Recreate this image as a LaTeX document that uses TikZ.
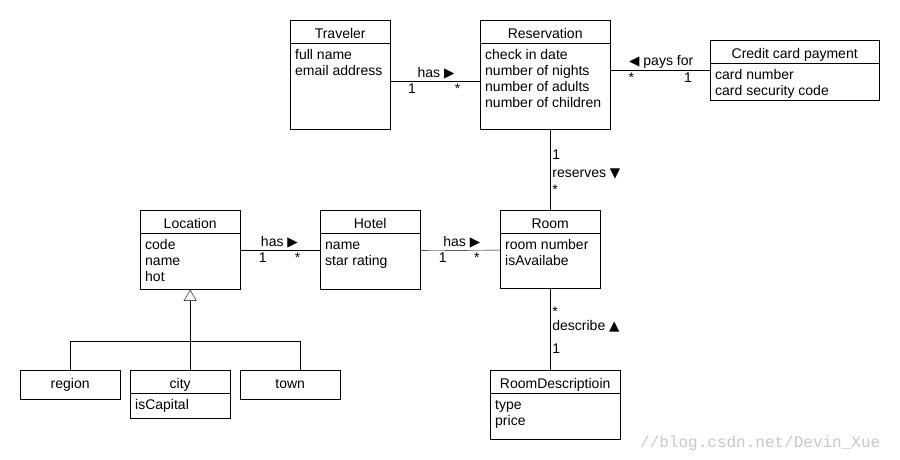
\documentclass[tikz,border=0pt]{standalone}
\usepackage{fontspec}
\setmainfont{Liberation Sans}
\newfontfamily\symfont{DejaVu Sans}
\newfontfamily\wmfont{Liberation Mono}
\usetikzlibrary{arrows.meta}
\usetikzlibrary{positioning}
\tikzset{classhead/.style = {draw, inner sep=0pt, minimum height=23pt, text height=13pt, text depth=0pt},
         classbox/.style = {classhead, minimum height=29pt, text depth=6pt},
         classbody/.style = {draw, inner sep=0pt},
         attrs/.style = {align=left, inner sep=0pt},
         role/.style = {inner sep=2pt},
         inherit/.style = {-{Triangle[open, length=11pt, width=13pt]}},
         wmark/.style = {font=\wmfont\fontsize{16}{18}\selectfont, text=black!22, inner sep=0pt}}
\newcommand{\rtri}{{\symfont\fontsize{13.5}{14}\selectfont▶}}
\newcommand{\ltri}{{\symfont\fontsize{13.5}{14}\selectfont◀}}
\newcommand{\utri}{{\symfont\fontsize{13.5}{14}\selectfont▲}}
\newcommand{\dtri}{{\symfont\fontsize{13.5}{14}\selectfont▼}}

\begin{document}
\begin{tikzpicture}[x=1pt, y=-1pt, font=\fontsize{14}{16}\selectfont]
    \useasboundingbox (0,0) rectangle (900,460);

    % classes
    \node[classhead, minimum width=100pt, anchor=north west] (trav) at (290,20) {Traveler};
    \node[classbody, minimum width=100pt, minimum height=86pt, below=0pt of trav] (travb) {};
    \node[attrs, below right=5.5pt and 5pt of travb.north west] (trava) {full name\\email address};

    \node[classhead, minimum width=130pt, anchor=north west] (res) at (480,20) {Reservation};
    \node[classbody, minimum width=130pt, minimum height=86pt, below=0pt of res] (resb) {};
    \node[attrs, below right=5.5pt and 5pt of resb.north west] (resa)
      {check in date\\number of nights\\number of adults\\number of children};

    \node[classhead, minimum width=169pt, anchor=north west] (card) at (710,40) {Credit card payment};
    \node[classbody, minimum width=169pt, minimum height=37pt, below=0pt of card] (cardb) {};
    \node[attrs, below right=5.5pt and 5pt of cardb.north west] (carda) {card number\\card security code};

    \node[classhead, minimum width=100pt, anchor=north west] (loc) at (140,210) {Location};
    \node[classbody, minimum width=100pt, minimum height=56pt, below=0pt of loc] (locb) {};
    \node[attrs, below right=5.5pt and 5pt of locb.north west] (loca) {code\\name\\hot};

    \node[classhead, minimum width=100pt, anchor=north west] (hotel) at (320,210) {Hotel};
    \node[classbody, minimum width=100pt, minimum height=56pt, below=0pt of hotel] (hotelb) {};
    \node[attrs, below right=5.5pt and 5pt of hotelb.north west] (hotela) {\vphantom{h}name\\star rating};

    \node[classhead, minimum width=100pt, anchor=north west] (room) at (500,210) {Room};
    \node[classbody, minimum width=100pt, minimum height=55pt, below=0pt of room] (roomb) {};
    \node[attrs, below right=5.5pt and 5pt of roomb.north west] (rooma) {room number\\isAvailabe};

    \node[classhead, minimum width=130pt, anchor=north west] (rdesc) at (490,370) {RoomDescriptioin};
    \node[classbody, minimum width=130pt, minimum height=46pt, below=0pt of rdesc] (rdescb) {};
    \node[attrs, below right=5.5pt and 5pt of rdescb.north west] (rdesca) {\vphantom{h}type\\price};

    \node[classbox, minimum width=100pt, anchor=north west] (region) at (20,370) {region};
    \node[classhead, minimum width=100pt, anchor=north west] (city) at (130,370) {city};
    \node[classbody, minimum width=100pt, minimum height=25pt, below=0pt of city] (cityb) {};
    \node[attrs, below right=5.5pt and 5pt of cityb.north west] (citya) {isCapital};
    \node[classbox, minimum width=100pt, anchor=north west] (town) at (240,370) {town};

    % associations
    \draw ([yshift=5pt]travb.east) -- ([yshift=5pt]resb.west)
      node[role, pos=.51, above] (hasTR) {has \rtri}
      node[role, pos=.24, below] (mTR1) {1}
      node[role, pos=.75, below] (mTR2) {*};

    \draw ([yshift=16pt]resb.east) -- ([yshift=16pt]resb.east -| cardb.west)
      node[role, pos=.51, above] (pays) {\ltri\ pays for}
      node[role, pos=.21, below] (mRC1) {*}
      node[role, pos=.78, below] (mRC2) {1};

    \draw ([yshift=11pt]locb.east) -- ([yshift=11pt]hotelb.west)
      node[role, pos=.49, above] (hasLH) {has \rtri}
      node[role, pos=.28, below] (mLH1) {1}
      node[role, pos=.72, below] (mLH2) {*};

    \draw ([yshift=11pt]hotelb.east) -- ([yshift=11pt]roomb.west)
      node[role, pos=.52, above] (hasHR) {has \rtri}
      node[role, pos=.28, below] (mHR1) {1}
      node[role, pos=.71, below] (mHR2) {*};

    \draw (room.north) -- (room.north |- resb.south)
      node[role, pos=.69, right] (mRR1) {1}
      node[role, pos=.45, right] (reserves) {reserves \dtri}
      node[role, pos=.25, right] (mRR2) {*};

    \draw (roomb.south) -- (roomb.south |- rdesc.north)
      node[role, pos=.28, right] (mRD1) {*}
      node[role, pos=.46, right] (describe) {describe \utri}
      node[role, pos=.74, right] (mRD2) {1};

    % generalization
    \draw (region.north) -- ++(0,-29) -| ([xshift=10pt]town.north);
    \draw[inherit] (locb.south |- city.north) -- (locb.south);

    \node[wmark, anchor=base west] (wm) at (640,447) {//blog.csdn.net/Devin\_Xue};
\end{tikzpicture}
\end{document}
